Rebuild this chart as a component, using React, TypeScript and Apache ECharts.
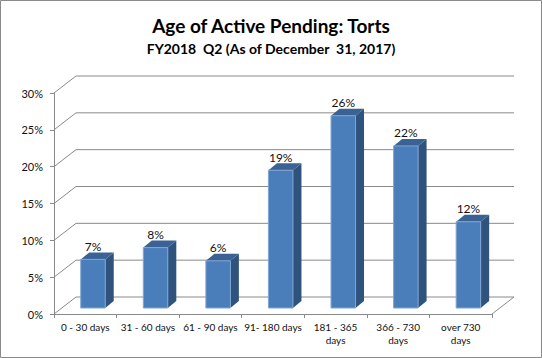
import React, { useEffect, useRef } from "react";
import * as echarts from "echarts";

const categories = [
  "0 - 30 days",
  "31 - 60 days",
  "61 - 90 days",
  "91- 180 days",
  "181 - 365\ndays",
  "366 - 730\ndays",
  "over 730\ndays",
];
const shares = [0.066, 0.082, 0.064, 0.187, 0.261, 0.22, 0.117];
const tickValues = [0, 0.05, 0.1, 0.15, 0.2, 0.25, 0.3];
const titleText = "Age of Active Pending: Torts";
const subtitleText = "FY2018  Q2 (As of December  31, 2017)";

const FONT = "Lato, 'Open Sans', sans-serif";
const GRID_COLOR = "#8a8a8a";
const WALL_DX = 22;
const WALL_DY = -17;
const BAR_OFF_X = 7.7;
const BAR_OFF_Y = -6;
const BAR_W = 24.5;
const BAR_DX = 8.5;
const BAR_DY = -7;

const pct = (v: number) => Math.round(v * 100) + "%";

export default function App() {
  const ref = useRef<HTMLDivElement>(null);
  useEffect(() => {
    document.body.style.margin = "0";
    const chart = echarts.init(ref.current!, null, { renderer: "svg" });
    chart.setOption({
      animation: false,
      backgroundColor: "#ffffff",
      title: [
        {
          text: titleText,
          left: "center",
          top: 14,
          padding: 0,
          textStyle: { fontFamily: FONT, fontSize: 19, fontWeight: "bold", color: "#000", lineHeight: 23 },
        },
        {
          text: subtitleText,
          left: "center",
          top: 40,
          padding: 0,
          textStyle: { fontFamily: FONT, fontSize: 14, fontWeight: "bold", color: "#000", lineHeight: 17 },
        },
      ],
      grid: { left: 54, right: 50, top: 93, bottom: 44 },
      xAxis: {
        type: "category",
        data: categories,
        axisLine: { show: true, lineStyle: { color: GRID_COLOR, width: 1 } },
        axisTick: { show: true, length: 4, interval: 0, lineStyle: { color: GRID_COLOR } },
        axisLabel: { interval: 0, margin: 6, fontFamily: FONT, fontSize: 10, lineHeight: 13, color: "#111" },
        splitLine: { show: false },
      },
      yAxis: {
        type: "value",
        min: 0,
        max: 0.3,
        interval: 0.05,
        axisLine: { show: true, lineStyle: { color: GRID_COLOR, width: 1 } },
        axisTick: { show: true, length: 4, lineStyle: { color: GRID_COLOR } },
        axisLabel: { margin: 11, fontFamily: FONT, fontSize: 11, color: "#111", formatter: (v: number) => pct(v) },
        splitLine: { show: false },
      },
      graphic: [
        {
          type: "rect",
          shape: { x: 0.5, y: 0.5, width: 541, height: 357 },
          style: { fill: "none", stroke: "#8a8a8a", lineWidth: 1 },
          silent: true,
        },
      ],
      series: [
        {
          type: "custom",
          z: 1,
          silent: true,
          data: tickValues.map((v) => [0, v]),
          encode: { x: 0, y: 1 },
          renderItem: (params: any, api: any) => {
            const v = api.value(1);
            const cs = params.coordSys;
            const y = api.coord([0, v])[1];
            const xl = cs.x;
            const xr = cs.x + cs.width;
            const children: any[] = [
              {
                type: "polyline",
                shape: { points: [[xl, y], [xl + WALL_DX, y + WALL_DY], [xr + WALL_DX, y + WALL_DY]] },
                style: { fill: "none", stroke: GRID_COLOR, lineWidth: 1 },
              },
            ];
            if (v === 0) {
              children.push({
                type: "line",
                shape: { x1: xr, y1: y, x2: xr + WALL_DX, y2: y + WALL_DY },
                style: { stroke: GRID_COLOR, lineWidth: 1 },
              });
            }
            return { type: "group", children };
          },
        },
        {
          type: "custom",
          z: 3,
          data: shares.map((v, i) => [i, v]),
          encode: { x: 0, y: 1 },
          renderItem: (params: any, api: any) => {
            const i = api.value(0);
            const v = api.value(1);
            const top = api.coord([i, v]);
            const base = api.coord([i, 0]);
            const cx = top[0] + BAR_OFF_X;
            const x0 = cx - BAR_W / 2;
            const x1 = cx + BAR_W / 2;
            const yT = top[1] + BAR_OFF_Y;
            const yB = base[1] + BAR_OFF_Y;
            return {
              type: "group",
              children: [
                {
                  type: "polygon",
                  shape: { points: [[x1, yB], [x1 + BAR_DX, yB + BAR_DY], [x1 + BAR_DX, yT + BAR_DY], [x1, yT]] },
                  style: { fill: "#30537e" },
                },
                {
                  type: "polygon",
                  shape: { points: [[x0, yT], [x1, yT], [x1 + BAR_DX, yT + BAR_DY], [x0 + BAR_DX, yT + BAR_DY]] },
                  style: { fill: "#3a6294" },
                },
                {
                  type: "rect",
                  shape: { x: x0, y: yT, width: BAR_W, height: yB - yT },
                  style: { fill: "#4a7ebb", stroke: "#7fa5d3", lineWidth: 1 },
                },
                {
                  type: "text",
                  style: {
                    text: pct(v),
                    x: cx,
                    y: yT - 13,
                    align: "center",
                    verticalAlign: "middle",
                    fontFamily: FONT,
                    fontSize: 12,
                    fill: "#111",
                  },
                },
              ],
            };
          },
        },
      ],
    });
    return () => chart.dispose();
  }, []);
  return <div ref={ref} style={{ width: 542, height: 358 }} />;
}
